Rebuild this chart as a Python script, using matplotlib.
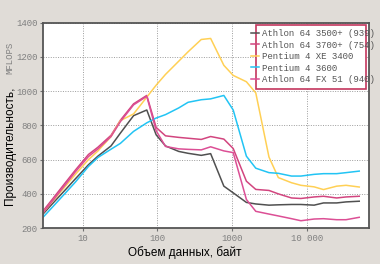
import matplotlib
matplotlib.use("Agg")
import matplotlib.pyplot as plt
from matplotlib.patches import Rectangle
from matplotlib.ticker import FixedLocator, FixedFormatter, NullLocator

# block sizes, bytes
sizes = [3, 4, 6, 8, 12, 16, 24, 32, 48, 72, 96, 128, 192, 256, 384, 512, 768,
         1024, 1536, 2048, 3072, 4096, 6144, 8192, 12288, 16384, 24576, 32768, 49152]

athlon_3500 = [284, 344, 427, 487, 570, 620, 680, 755, 857, 890, 745, 680, 648, 637,
               625, 635, 445, 406, 350, 341, 334, 336, 338, 338, 334, 347, 347, 353, 357]
athlon_3700 = [302, 371, 469, 538, 630, 672, 742, 830, 926, 975, 788, 739, 730, 725,
               718, 735, 720, 665, 474, 426, 420, 400, 376, 373, 382, 386, 376, 382, 386]
p4_xe_3400 = [292, 357, 448, 513, 600, 650, 735, 828, 867, 965, 1035, 1098, 1175, 1230,
              1302, 1308, 1151, 1092, 1055, 990, 615, 495, 465, 450, 441, 425, 445, 450, 440]
p4_3600 = [265, 324, 408, 468, 560, 612, 661, 695, 765, 815, 843, 863, 902, 935,
           950, 955, 975, 890, 620, 550, 524, 520, 504, 504, 514, 518, 518, 524, 533]
athlon_fx51 = [292, 360, 458, 528, 618, 662, 735, 822, 920, 970, 769, 677, 663, 660,
               657, 675, 651, 641, 367, 298, 282, 271, 255, 243, 253, 255, 249, 249, 263]

series = [
    ("Athlon 64 3500+ (939)", athlon_3500, "#505050"),
    ("Athlon 64 3700+ (754)", athlon_3700, "#d2457f"),
    ("Pentium 4 XE 3400", p4_xe_3400, "#ffd055"),
    ("Pentium 4 3600", p4_3600, "#22c4f4"),
    ("Athlon 64 FX 51 (940)", athlon_fx51, "#dc4f95"),
]

x_ticks = [10, 100, 1000, 10000]
x_tick_labels = ["10", "100", "1000", "10 000"]
y_ticks = [200, 400, 600, 800, 1000, 1200, 1400]

bg = "#e0dcd7"
mono = ["Liberation Mono", "DejaVu Sans Mono"]
sans = ["Liberation Sans", "DejaVu Sans"]

fig = plt.figure(figsize=(3.8, 2.64), dpi=100, facecolor=bg)
ax = fig.add_axes([0.114, 0.136, 0.856, 0.778])
ax.set_facecolor("white")

for label, vals, color in series:
    ax.plot(sizes, vals, color=color, lw=1.1, label=label)

ax.set_xscale("log")
ax.set_xlim(3, 65536)
ax.set_ylim(200, 1400)
ax.xaxis.set_major_locator(FixedLocator(x_ticks))
ax.xaxis.set_major_formatter(FixedFormatter(x_tick_labels))
ax.xaxis.set_minor_locator(NullLocator())
ax.set_yticks(y_ticks)
ax.grid(True, which="major", linestyle=(0, (1, 1.5)), color="#9c9c9c", lw=0.7)

for lab in ax.get_xticklabels() + ax.get_yticklabels():
    lab.set_family(mono)
    lab.set_fontsize(6.5)
    lab.set_color("#808080")
ax.tick_params(length=2, width=0.8, color="#707070", pad=2)

for sp in ax.spines.values():
    sp.set_color("#555555")
    sp.set_linewidth(1.3)

# legend box
ax.add_patch(Rectangle((0.654, 0.676), 0.339, 0.313, transform=ax.transAxes,
                       facecolor="white", edgecolor="#c4365e", lw=1.2, zorder=4))
leg = ax.legend(loc="upper left", bbox_to_anchor=(0.62, 1.0), frameon=False,
                prop={"family": mono, "size": 6.5}, handlelength=0.9,
                handletextpad=0.3, labelspacing=0.28, borderaxespad=0.3)
leg.set_zorder(5)
for t in leg.get_texts():
    t.set_color("#555555")

fig.text(0.487, 0.045, "Объем данных, байт", ha="center", va="center",
         family=sans, fontsize=8.5, color="black")
fig.text(0.026, 0.223, "Производительность,", rotation=90, ha="center", va="bottom",
         family=sans, fontsize=8.5, color="black")
fig.text(0.026, 0.718, "MFLOPS", rotation=90, ha="center", va="bottom",
         family=mono, fontsize=6.5, color="#808080")

fig.savefig("out.png", dpi=100, facecolor=bg)
